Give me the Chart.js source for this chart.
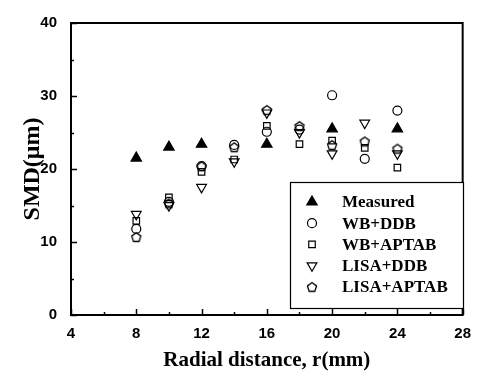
<!DOCTYPE html>
<html>
<head>
<meta charset="utf-8">
<script src="https://cdn.jsdelivr.net/npm/chart.js@4"></script>
<style>
  html, body { margin: 0; padding: 0; background: #fff; }
</style>
</head>
<body>
<canvas id="smdChart" width="481" height="381"></canvas>
<script>
// radial positions (mm) and SMD values (um)
const radial    = [8, 10, 12, 14, 16, 18, 20, 22, 24];
const measured  = [21.5, 23.0, 23.4, null, 23.4, null, 25.5, null, 25.5];
const wbDdb     = [11.8, 15.5, 20.4, 23.3, 25.1, 25.4, 30.1, 21.4, 28.0];
const wbAptab   = [12.9, 16.1, 19.6, 21.3, 25.9, 23.4, 23.9, 22.9, 20.2];
const lisaDdb   = [13.8, 15.0, 17.5, 21.0, 27.7, 25.0, 22.1, 26.3, 22.1];
const lisaAptab = [10.7, 15.3, 20.4, 23.0, 28.1, 25.9, 23.3, 23.8, 22.8];
const seriesNames = ['Measured', 'WB+DDB', 'WB+APTAB', 'LISA+DDB', 'LISA+APTAB'];

function toPoints(vals) {
  return radial.map((x, i) => ({ x: x, y: vals[i] })).filter(p => p.y !== null);
}

// pentagon marker as an image, chart.js has no pentagon style
function makePentagon(r, lw) {
  const c = document.createElement('canvas');
  const s = 2 * Math.ceil(r + lw + 1);
  c.width = s; c.height = s;
  const g = c.getContext('2d');
  g.lineWidth = lw;
  g.strokeStyle = '#000';
  g.beginPath();
  for (let i = 0; i < 5; i++) {
    const a = -Math.PI / 2 + i * 2 * Math.PI / 5;
    const px = s / 2 + r * Math.cos(a), py = s / 2 + 0.6 + r * Math.sin(a);
    if (i === 0) g.moveTo(px, py); else g.lineTo(px, py);
  }
  g.closePath();
  g.stroke();
  return c;
}
const pentagon = makePentagon(4.8, 1.3);

const none = 'rgba(0,0,0,0)';
const markerStyles = [
  { pointStyle: 'triangle', radius: 6, rotation: 0, fill: '#000' },
  { pointStyle: 'circle', radius: 4.5, rotation: 0, fill: none },
  { pointStyle: 'rect', radius: 4.6, rotation: 0, fill: none },
  { pointStyle: 'triangle', radius: 5.6, rotation: 180, fill: none },
  { pointStyle: pentagon, radius: 5, rotation: 0, fill: none }
];
const allSeries = [measured, wbDdb, wbAptab, lisaDdb, lisaAptab];

const datasets = allSeries.map((vals, i) => ({
  label: seriesNames[i],
  data: toPoints(vals),
  showLine: false,
  pointStyle: markerStyles[i].pointStyle,
  pointRadius: markerStyles[i].radius,
  pointRotation: markerStyles[i].rotation,
  pointBackgroundColor: markerStyles[i].fill,
  pointBorderColor: '#000',
  pointBorderWidth: 1.2
}));

function drawMarker(ctx, st, x, y) {
  ctx.save();
  ctx.lineWidth = 1.2;
  ctx.strokeStyle = '#000';
  ctx.fillStyle = st.fill;
  ctx.beginPath();
  if (st.pointStyle === 'triangle') {
    const r = st.radius, dir = st.rotation === 180 ? -1 : 1;
    for (let k = 0; k < 3; k++) {
      const a = k * 2 * Math.PI / 3;
      const px = x + Math.sin(a) * r, py = y - dir * Math.cos(a) * r;
      if (k === 0) ctx.moveTo(px, py); else ctx.lineTo(px, py);
    }
    ctx.closePath();
    ctx.fill(); ctx.stroke();
  } else if (st.pointStyle === 'circle') {
    ctx.arc(x, y, st.radius, 0, 2 * Math.PI);
    ctx.stroke();
  } else if (st.pointStyle === 'rect') {
    const h = st.radius * Math.SQRT1_2;
    ctx.rect(x - h, y - h, 2 * h, 2 * h);
    ctx.stroke();
  } else {
    ctx.drawImage(st.pointStyle, x - st.pointStyle.width / 2, y - st.pointStyle.height / 2);
  }
  ctx.restore();
}

// frame with inward ticks, like the original plot
const framePlugin = {
  id: 'frame',
  afterDraw(chart) {
    const { ctx, chartArea: a, scales } = chart;
    ctx.save();
    ctx.strokeStyle = '#000';
    ctx.lineWidth = 1.5;
    for (let v = 4; v <= 28; v += 2) {
      const px = Math.round(scales.x.getPixelForValue(v)) + 0.5;
      const len = (v % 4 === 0) ? 6 : 3;
      ctx.beginPath(); ctx.moveTo(px, a.bottom); ctx.lineTo(px, a.bottom - len); ctx.stroke();
    }
    for (let v = 0; v <= 40; v += 5) {
      const py = Math.round(scales.y.getPixelForValue(v)) + 0.5;
      const len = (v % 10 === 0) ? 6 : 3;
      ctx.beginPath(); ctx.moveTo(a.left, py); ctx.lineTo(a.left + len, py); ctx.stroke();
    }
    ctx.lineWidth = 2;
    ctx.strokeRect(a.left, a.top, a.right - a.left, a.bottom - a.top);
    ctx.restore();
  }
};

const legendBoxPlugin = {
  id: 'legendBox',
  afterDraw(chart) {
    const ctx = chart.ctx;
    ctx.save();
    ctx.strokeStyle = '#000';
    ctx.lineWidth = 1.2;
    ctx.fillStyle = '#fff';
    ctx.fillRect(290, 182, 173, 126);
    ctx.strokeRect(290.5, 182.5, 173, 126);
    ctx.font = 'bold 17px "Liberation Serif", "Times New Roman", serif';
    ctx.textBaseline = 'middle';
    seriesNames.forEach((name, i) => {
      const y = 202 + i * 21.2;
      drawMarker(ctx, markerStyles[i], 312, y);
      ctx.fillStyle = '#000';
      ctx.fillText(name, 342, y + 1);
    });
    ctx.restore();
  }
};

const ctx = document.getElementById('smdChart').getContext('2d');
new Chart(ctx, {
  type: 'scatter',
  data: { datasets: datasets },
  plugins: [framePlugin, legendBoxPlugin],
  options: {
    responsive: false,
    animation: false,
    events: [],
    layout: { padding: { left: 0, right: 14, top: 16, bottom: 0 } },
    plugins: {
      legend: { display: false },
      tooltip: { enabled: false }
    },
    scales: {
      x: {
        type: 'linear',
        min: 4,
        max: 28,
        afterFit: s => { s.height = 66; },
        grid: { display: false, drawTicks: false },
        border: { display: false },
        ticks: {
          stepSize: 4,
          maxRotation: 0,
          padding: 10,
          color: '#000',
          font: { family: 'Liberation Sans', weight: 'bold', size: 15 }
        },
        title: {
          display: true,
          text: 'Radial distance, r(mm)',
          color: '#000',
          font: { family: 'Liberation Serif', weight: 'bold', size: 21 },
          padding: { top: 0, bottom: 8 }
        }
      },
      y: {
        min: 0,
        max: 40,
        afterFit: s => { s.width = 71; },
        grid: { display: false, drawTicks: false },
        border: { display: false },
        ticks: {
          stepSize: 10,
          padding: 14,
          color: '#000',
          font: { family: 'Liberation Sans', weight: 'bold', size: 15 }
        },
        title: {
          display: true,
          text: 'SMD(μm)',
          color: '#000',
          font: { family: 'Liberation Serif', weight: 'bold', size: 24 },
          padding: { top: 18, bottom: 0 }
        }
      }
    }
  }
});
</script>
</body>
</html>
